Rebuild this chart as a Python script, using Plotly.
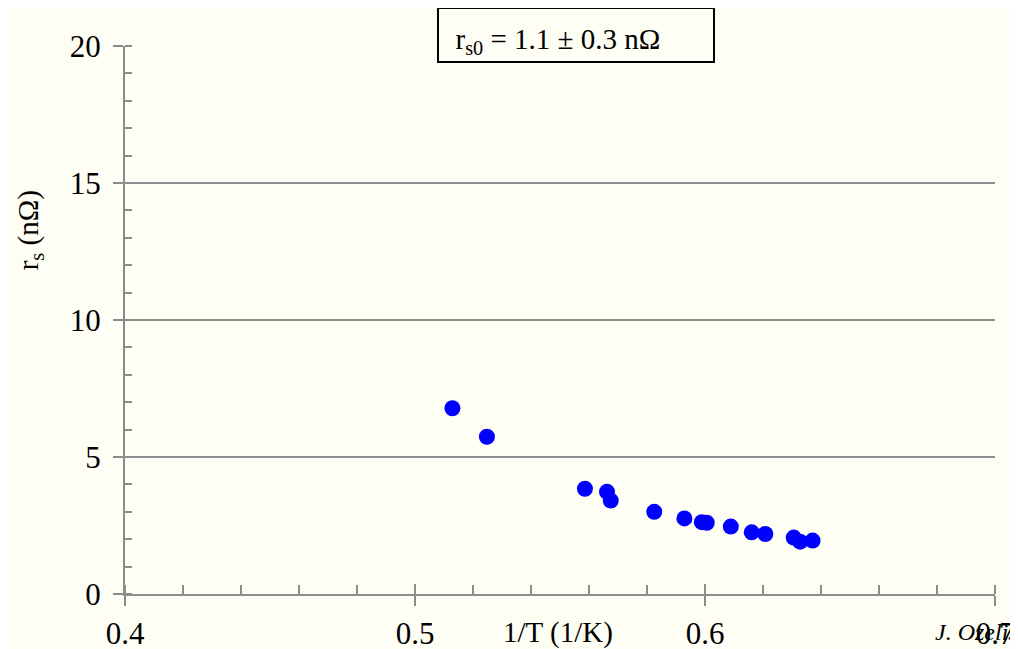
import plotly.graph_objects as go

inv_T = [0.5129, 0.5248, 0.5586, 0.5662, 0.5675, 0.5825, 0.5929, 0.5989, 0.6006,
         0.6089, 0.6161, 0.6208, 0.6306, 0.6328, 0.6371]
r_s = [6.78, 5.74, 3.84, 3.73, 3.41, 3.00, 2.76, 2.62, 2.60,
       2.46, 2.25, 2.19, 2.06, 1.91, 1.95]
x_ticks = [0.4, 0.5, 0.6, 0.7]
y_ticks = [0, 5, 10, 15, 20]

BG = "#FFFEF5"
GRAY = "#8C8C8C"
FONT = "Liberation Serif"

fig = go.Figure()
fig.add_trace(go.Scatter(x=inv_T, y=r_s, mode="markers",
                         marker=dict(color="#0000FF", size=16, line=dict(width=0)),
                         showlegend=False))
# invisible trace on overlay axis giving the inner half of the crossing x ticks
fig.add_trace(go.Scatter(x=[0.4, 0.7], y=[0, 0], mode="markers", xaxis="x2",
                         marker=dict(opacity=0), showlegend=False, hoverinfo="skip"))

fig.update_layout(
    width=1002, height=641,
    paper_bgcolor=BG, plot_bgcolor=BG,
    margin=dict(l=117, r=15, t=38, b=55),
    font=dict(family=FONT, size=31, color="black"),
    xaxis=dict(range=[0.4, 0.7], tickvals=x_ticks, ticktext=["0.4", "0.5", "0.6", "0.7"],
               automargin=False, ticklabeloverflow="allow",
               showgrid=False, zeroline=False, showline=True, linecolor=GRAY, linewidth=2,
               ticks="outside", ticklen=10, tickwidth=2, tickcolor=GRAY,
               minor=dict(dtick=0.02, ticks="inside", ticklen=9, tickwidth=1.5, tickcolor=GRAY),
               tickfont=dict(size=31, family=FONT), ticklabelstandoff=1),
    xaxis2=dict(overlaying="x", matches="x", anchor="y", range=[0.4, 0.7], tickvals=x_ticks,
                automargin=False,
                showticklabels=False, showgrid=False, zeroline=False, showline=False,
                ticks="inside", ticklen=10, tickwidth=2, tickcolor=GRAY, side="bottom"),
    yaxis=dict(range=[0, 20], tickvals=y_ticks, automargin=False,
               showgrid=True, gridcolor=GRAY, gridwidth=1.5, zeroline=False,
               showline=True, linecolor=GRAY, linewidth=2,
               ticks="outside", ticklen=10, tickwidth=2, tickcolor=GRAY,
               minor=dict(dtick=1, ticks="inside", ticklen=7, tickwidth=1.5, tickcolor=GRAY,
                          showgrid=False),
               tickfont=dict(size=31, family=FONT), ticklabelstandoff=6),
)

fig.add_annotation(x=-0.109, y=0.664, xref="paper", yref="paper",
                   text="r<sub>s</sub> (nΩ)", showarrow=False, textangle=-90,
                   xanchor="center", yanchor="middle",
                   font=dict(size=29, family=FONT))
fig.add_annotation(x=0.498, y=-0.071, xref="paper", yref="paper",
                   text="1/T (1/K)", showarrow=False, xanchor="center", yanchor="middle",
                   font=dict(size=29, family=FONT))
fig.add_annotation(x=0.5184, y=1.0192, xref="paper", yref="paper",
                   text="&nbsp;&nbsp;r<sub>s0</sub> = 1.1 ± 0.3 nΩ", showarrow=False,
                   xanchor="center", yanchor="middle", align="left", valign="bottom",
                   width=270, height=48, borderpad=2,
                   bordercolor="black", borderwidth=2,
                   font=dict(size=29, family=FONT))
fig.add_annotation(x=0.9287, y=-0.069, xref="paper", yref="paper",
                   text="<i>J. Ozelis</i>", showarrow=False,
                   xanchor="left", yanchor="middle",
                   font=dict(size=24, family=FONT))

fig.write_html("out.html")
